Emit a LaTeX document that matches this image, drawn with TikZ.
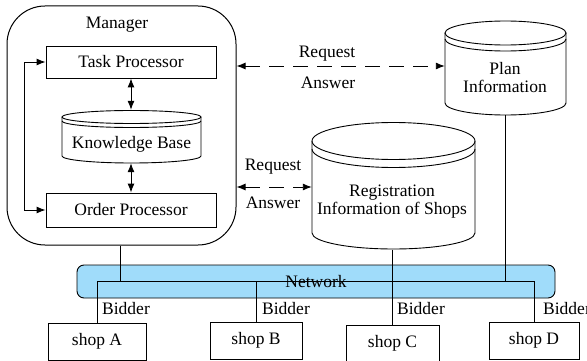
\documentclass[tikz,border=0pt]{standalone}
\usepackage{fontspec}
\IfFontExistsTF{LiberationSerif-Regular.ttf}{%
  \setmainfont{LiberationSerif-Regular.ttf}[BoldFont=LiberationSerif-Bold.ttf]}{%
  \setmainfont{Liberation Serif}}
\usetikzlibrary{arrows.meta}
\definecolor{netblue}{RGB}{160,220,250}
\begin{document}
\begin{tikzpicture}[x=1pt,y=-1pt,
  every node/.style={font=\rmfamily\fontsize{17.5}{18}\selectfont, inner sep=0pt},
  line/.style={line width=0.9pt},
  box/.style={draw, line width=0.9pt, minimum width=#1},
  ghost/.style={draw=none},
  arr/.style={line width=0.9pt, {Latex[length=9pt,width=7pt]}-{Latex[length=9pt,width=7pt]}},
  darr/.style={arr, dash pattern=on 15pt off 9pt},
  lbl/.style={anchor=west}
]
\useasboundingbox (0,0) rectangle (587,361);

% Manager
\node[draw, line width=1pt, rounded corners=38pt, minimum width=229pt, minimum height=239pt] (mgr) at (121.5,125.5) {};
\node (mgrt) at (117,25) {Manager};
\node[box=170pt, minimum height=32pt] (task) at (131,62) {Task Processor};
\node[box=170pt, minimum height=34pt] (order) at (131,210) {Order Processor};

% Knowledge base cylinder
\node[ghost, minimum width=139pt, minimum height=53pt] (kb) at (131.5,136.5) {};
\draw[line] (131.5,117) ellipse[x radius=69.5, y radius=6.5];
\draw[line] (62,117) -- (62,156) arc[start angle=180, end angle=0, x radius=69.5, y radius=7] -- (201,117);
\draw[line] (62,121) arc[start angle=180, end angle=0, x radius=69.5, y radius=6.5];
\node (kbt) at (131.5,144) {Knowledge Base};

% Plan information cylinder
\node[ghost, minimum width=121pt, minimum height=94pt] (plan) at (505.5,68) {};
\draw[line] (505.5,33) ellipse[x radius=60.5, y radius=12];
\draw[line] (445,33) -- (445,103) arc[start angle=180, end angle=0, x radius=60.5, y radius=12] -- (566,33);
\draw[line] (445,39) arc[start angle=180, end angle=0, x radius=60.5, y radius=12];
\node[align=center] (plant) at (505,78) {Plan\\Information};

% Registration cylinder
\node[ghost, minimum width=163pt, minimum height=127pt] (reg) at (393.5,186) {};
\draw[line] (393.5,141) ellipse[x radius=81.5, y radius=18.5];
\draw[line] (312,141) -- (312,233) arc[start angle=180, end angle=0, x radius=81.5, y radius=16] -- (475,141);
\draw[line] (312,149) arc[start angle=180, end angle=0, x radius=81.5, y radius=18.5];
\node[align=center] (regt) at (392,202) {Registration\\Information of Shops};

% Internal arrows
\draw[arr] (task.south) -- (task.south |- kb.north);
\draw[arr] (order.north) -- (order.north |- kb.south);
\draw[arr] (task.west) -- ++(-21,0) |- (order.west);

% Request / answer
\draw[darr] (mgr.east |- 0,66) -- (plan.west |- 0,66);
\node (req1) at (327,54) {Request};
\node (ans1) at (328,83) {Answer};
\draw[darr] (mgr.east |- 0,187) -- (reg.west |- 0,187);
\node (req2) at (273,167) {Request};
\node (ans2) at (273,203) {Answer};

% Network
\node[draw, line width=0.9pt, fill=netblue, rounded corners=7pt, minimum width=478pt, minimum height=33pt] (net) at (316,281.5) {Network};

% Shops
\node[box=98pt, minimum height=37pt] (shopA) at (97,341.5) {shop A};
\node[box=92pt, minimum height=37pt] (shopB) at (256,340.5) {shop B};
\node[box=93pt, minimum height=36pt] (shopC) at (392.5,343) {shop C};
\node[box=90pt, minimum height=37pt] (shopD) at (534,340.5) {shop D};

% Bus lines
\draw[line] (shopA.north) -- (shopA.north |- net.center) -- (shopD.north |- net.center) -- (shopD.north);
\draw[line] (mgr.south -| 120,0) -- (120,0 |- net.center);
\draw[line] (shopB.north) -- (shopB.north |- net.center);
\draw[line] (reg.south -| shopC.north) -- (shopC.north);
\draw[line] (plan.south) -- (plan.south |- net.center);

% Bidder labels
\node[lbl] (bA) at (102,309) {Bidder};
\node[lbl] (bB) at (262,309) {Bidder};
\node[lbl] (bC) at (397,309) {Bidder};
\node[lbl] (bD) at (543,309) {Bidder};
\end{tikzpicture}
\end{document}
